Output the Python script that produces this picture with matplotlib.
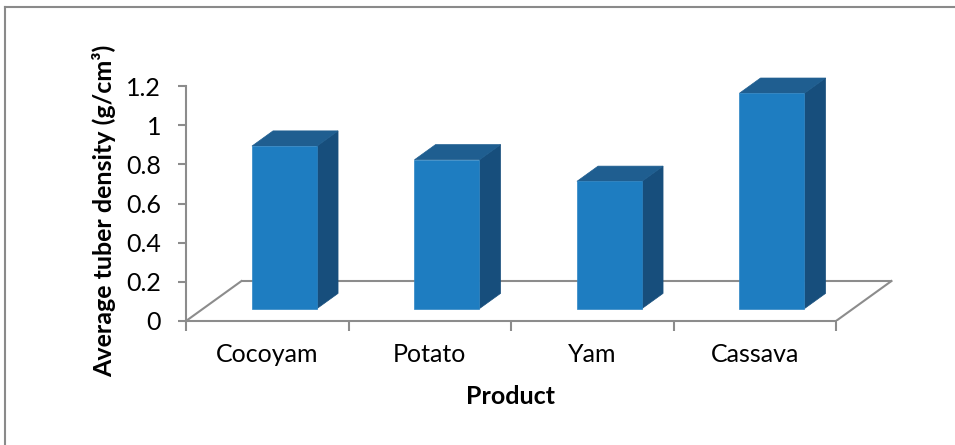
import matplotlib
matplotlib.use('Agg')
import matplotlib.pyplot as plt
from matplotlib.patches import Polygon
from matplotlib.lines import Line2D

# values
products = ['Cocoyam', 'Potato', 'Yam', 'Cassava']
density = [0.83, 0.76, 0.65, 1.10]
y_ticks = [0, 0.2, 0.4, 0.6, 0.8, 1.0, 1.2]
y_tick_labels = ['0', '0.2', '0.4', '0.6', '0.8', '1', '1.2']

plt.rcParams['font.family'] = ['Lato', 'DejaVu Sans']

W, H = 955, 445
fig = plt.figure(figsize=(W / 100, H / 100), dpi=100)

# pixel layout of the plot area (origin top-left)
px_left, px_right, px_zero, px_top = 186, 915, 321, 55
px_per_cat = 162.5
px_per_unit = 195.8
ax = fig.add_axes([px_left / W, (H - px_zero) / H,
                   (px_right - px_left) / W, (px_zero - px_top) / H])
ax.set_xlim(0, (px_right - px_left) / px_per_cat)
ax.set_ylim(0, (px_zero - px_top) / px_per_unit)

grey = '#8c8c8c'
# oblique depth of the floor in data units
dx = 55.5 / px_per_cat
dy = 40 / px_per_unit
f0, f1 = 0.31, 0.69     # bar depth span as fraction of floor depth
half_w = 0.2

n = len(products)
# floor outline
ax.plot([dx, n + dx], [dy, dy], color=grey, lw=1.5, zorder=1, solid_capstyle='butt')
ax.plot([0, dx], [0, dy], color=grey, lw=1.5, zorder=1)
ax.plot([n, n + dx], [0, dy], color=grey, lw=1.5, zorder=1)

c_front = '#1E7DC1'
c_side = '#174E7C'
c_top = '#1F5E90'
c_edge = '#2F86C4'

for i, v in enumerate(density):
    xl = i + 0.5 - half_w
    xr = i + 0.5 + half_w
    ox0, oy0 = dx * f0, dy * f0
    ox1, oy1 = dx * f1, dy * f1
    front = [(xl + ox0, oy0), (xr + ox0, oy0), (xr + ox0, oy0 + v), (xl + ox0, oy0 + v)]
    side = [(xr + ox0, oy0), (xr + ox1, oy1), (xr + ox1, oy1 + v), (xr + ox0, oy0 + v)]
    top = [(xl + ox0, oy0 + v), (xr + ox0, oy0 + v), (xr + ox1, oy1 + v), (xl + ox1, oy1 + v)]
    ax.add_patch(Polygon(side, closed=True, fc=c_side, ec=c_side, lw=0.5, zorder=3))
    ax.add_patch(Polygon(top, closed=True, fc=c_top, ec=c_top, lw=0.5, zorder=3))
    ax.add_patch(Polygon(front, closed=True, fc=c_front, ec=c_edge, lw=0.5, zorder=4))

for s in ['top', 'right']:
    ax.spines[s].set_visible(False)
ax.spines['left'].set_bounds(0, 1.2)
ax.spines['bottom'].set_bounds(0, n)
for s in ['left', 'bottom']:
    ax.spines[s].set_color(grey)
    ax.spines[s].set_linewidth(1.5)
    ax.spines[s].set_zorder(2)

ax.set_yticks(y_ticks)
ax.set_yticklabels(y_tick_labels)
ax.tick_params(axis='y', length=6, width=1.5, color=grey, pad=12, labelsize=18)

ax.set_xticks(range(n + 1))
ax.set_xticklabels([''] * (n + 1))
ax.set_xticks([i + 0.5 for i in range(n)], minor=True)
ax.set_xticklabels(products, minor=True)
ax.tick_params(axis='x', which='major', length=7, width=1.5, color=grey)
ax.tick_params(axis='x', which='minor', length=0, pad=16, labelsize=18)

fig.text(104 / W, 1 - 211 / H, 'Average tuber density (g/cm³)', rotation=90,
         ha='center', va='center', fontsize=18, fontweight='bold')
fig.text(510 / W, 1 - 396 / H, 'Product', ha='center', va='center',
         fontsize=18, fontweight='bold')

# chart frame (cut off at right and bottom in the original)
fig.add_artist(Line2D([5 / W, 5 / W], [0, 1 - 7 / H], color='#8a8a8a', lw=1.5))
fig.add_artist(Line2D([5 / W, 1], [1 - 7 / H, 1 - 7 / H], color='#8a8a8a', lw=1.5))

fig.savefig('out.png', dpi=100)
